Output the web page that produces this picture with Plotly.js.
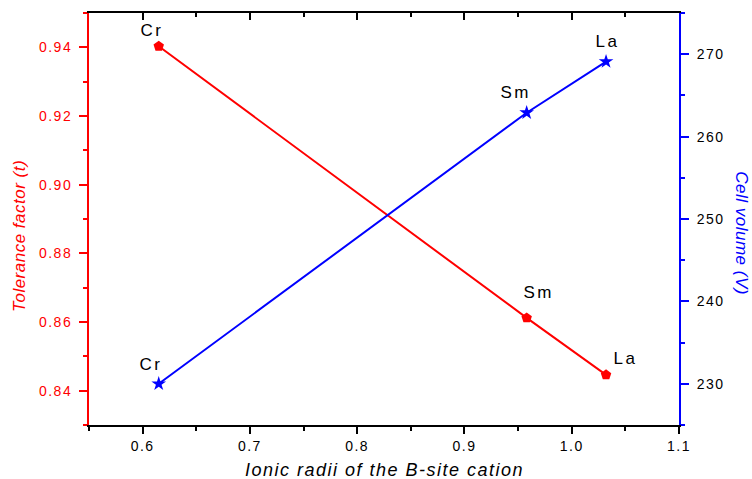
<!DOCTYPE html>
<html>
<head>
<meta charset="utf-8">
<script src="https://cdn.plot.ly/plotly-3.0.1.min.js"></script>
<style>
html,body{margin:0;padding:0;background:#fff;}
#chart{width:752px;height:479px;}
#chart .xtick text, #chart .ytick text, #chart .y2tick text { letter-spacing: 1.5px; }
</style>
</head>
<body>
<div id="chart"></div>
<script>
// Data
const cations = ["Cr", "Sm", "La"];
const ionicRadii = [0.615, 0.958, 1.032];
const toleranceFactor = [0.9403, 0.8612, 0.8446];
const cellVolume = [230.0, 262.9, 269.1];

const FONT = "Liberation Sans, Arial, sans-serif";

const traces = [
  {
    x: ionicRadii, y: toleranceFactor, xaxis: "x", yaxis: "y",
    mode: "lines+markers", type: "scatter",
    line: {color: "#ff0000", width: 2},
    marker: {symbol: "pentagon", size: 11, color: "#ff0000"},
    hoverinfo: "skip", showlegend: false
  },
  {
    x: ionicRadii, y: cellVolume, xaxis: "x", yaxis: "y2",
    mode: "lines+markers", type: "scatter",
    line: {color: "#0000ff", width: 2},
    marker: {symbol: "star", size: 11, color: "#0000ff"},
    hoverinfo: "skip", showlegend: false
  },
  {
    // invisible trace to attach the top mirror axis
    x: ionicRadii, y: toleranceFactor, xaxis: "x2", yaxis: "y",
    mode: "markers", marker: {opacity: 0}, hoverinfo: "skip", showlegend: false
  }
];

// label offsets (px) for each point label
const redShift = [[-8, 16], [11, 25], [18, 16]];
const blueShift = [[-9, 19], [-12, 20], [0, 20]];

const annotations = [];
cations.forEach((c, i) => {
  annotations.push({x: ionicRadii[i], y: toleranceFactor[i], xref: "x", yref: "y",
    text: c, showarrow: false, xshift: redShift[i][0] + 1, yshift: redShift[i][1],
    xanchor: "center", yanchor: "middle",
    font: {family: FONT, size: 17, color: "#000"}});
  annotations.push({x: ionicRadii[i], y: cellVolume[i], xref: "x", yref: "y2",
    text: c, showarrow: false, xshift: blueShift[i][0] + 1, yshift: blueShift[i][1],
    xanchor: "center", yanchor: "middle",
    font: {family: FONT, size: 17, color: "#000"}});
});
annotations.push({xref: "paper", yref: "paper", x: 0, y: 0.459, xshift: -69,
  xanchor: "center", yanchor: "middle",
  text: "<i>Tolerance factor (t)</i>", textangle: -90, showarrow: false,
  font: {family: FONT, size: 17, color: "#ff0000"}});
annotations.push({xref: "paper", yref: "paper", x: 1, y: 0.466, xshift: 63,
  xanchor: "center", yanchor: "middle",
  text: "<i>Cell volume (V)</i>", textangle: 90, showarrow: false,
  font: {family: FONT, size: 17, color: "#0000ff"}});
annotations.push({xref: "paper", yref: "paper", x: 0.5, y: 0, yshift: -45,
  xanchor: "center", yanchor: "middle",
  text: "<i>Ionic radii of the B-site cation</i>", showarrow: false,
  font: {family: FONT, size: 18, color: "#000"}});

const layout = {
  width: 752, height: 479,
  margin: {l: 89, r: 73, t: 13, b: 54},
  paper_bgcolor: "#fff", plot_bgcolor: "#fff",
  font: {family: FONT, size: 14},
  xaxis: {
    range: [0.55, 1.1], dtick: 0.1, tick0: 0.6, tickformat: ".1f",
    showgrid: false, zeroline: false,
    showline: true, linecolor: "#000", linewidth: 2,
    ticks: "outside", ticklen: 7, tickwidth: 2, tickcolor: "#000",
    minor: {dtick: 0.05, tick0: 0.55, ticks: "outside", ticklen: 4, tickwidth: 2, tickcolor: "#000"},
    tickfont: {family: FONT, size: 14, color: "#000"}
  },
  xaxis2: {
    overlaying: "x", side: "top", matches: "x",
    range: [0.55, 1.1], dtick: 0.1, tick0: 0.6,
    showgrid: false, zeroline: false, showticklabels: false,
    showline: true, linecolor: "#000", linewidth: 2,
    ticks: "inside", ticklen: 7, tickwidth: 2, tickcolor: "#000",
    minor: {dtick: 0.05, tick0: 0.55, ticks: "inside", ticklen: 4, tickwidth: 2, tickcolor: "#000"}
  },
  yaxis: {
    range: [0.83, 0.95], dtick: 0.02, tick0: 0.84, tickformat: ".2f",
    showgrid: false, zeroline: false,
    showline: true, linecolor: "#ff0000", linewidth: 2,
    ticks: "outside", ticklen: 8, tickwidth: 2, tickcolor: "#ff0000",
    ticklabelstandoff: 4,
    minor: {dtick: 0.01, tick0: 0.83, ticks: "outside", ticklen: 4, tickwidth: 2, tickcolor: "#ff0000"},
    tickfont: {family: FONT, size: 14, color: "#ff0000"}
  },
  yaxis2: {
    overlaying: "y", side: "right",
    range: [225, 275], dtick: 10, tick0: 230,
    showgrid: false, zeroline: false,
    showline: true, linecolor: "#0000ff", linewidth: 2,
    ticks: "outside", ticklen: 8, tickwidth: 2, tickcolor: "#0000ff",
    ticklabelstandoff: 5,
    minor: {dtick: 5, tick0: 225, ticks: "outside", ticklen: 4, tickwidth: 2, tickcolor: "#0000ff"},
    tickfont: {family: FONT, size: 14, color: "#000"}
  },
  annotations: annotations
};

Plotly.newPlot("chart", traces, layout, {displayModeBar: false, staticPlot: true}).then(() => {
  const anns = document.querySelectorAll("#chart .annotation-text");
  anns.forEach((t, i) => {
    if (i < 6) t.style.letterSpacing = "2.5px";
    else if (i === 8) t.style.letterSpacing = "1.5px";
    else t.style.letterSpacing = "0.5px";
  });
});
</script>
</body>
</html>
